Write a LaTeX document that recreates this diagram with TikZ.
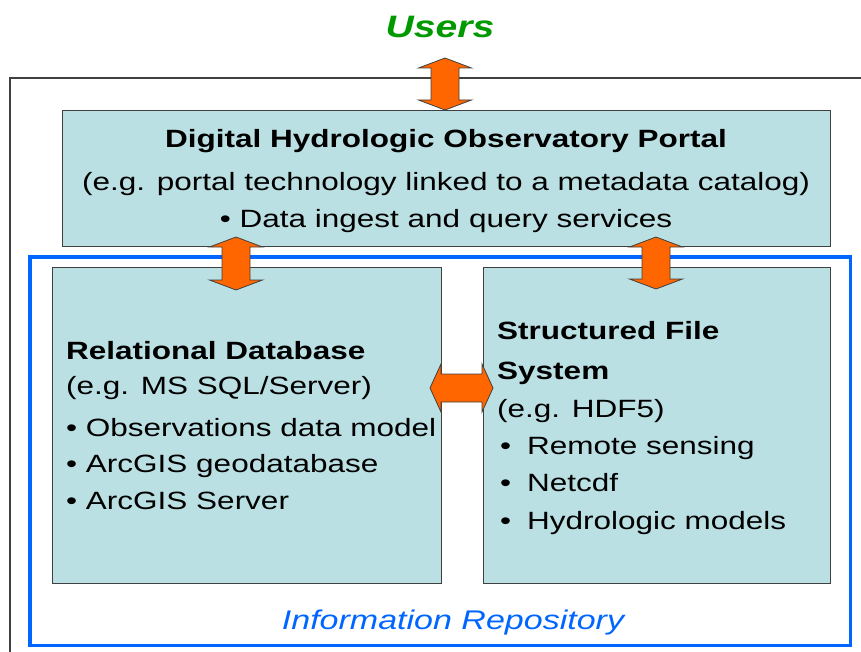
\documentclass[tikz,border=0pt]{standalone}
\usepackage{fontspec}
\setmainfont{Liberation Sans}[FakeStretch=1.26]
\usetikzlibrary{calc}

\definecolor{boxfill}{RGB}{187,224,227}
\definecolor{repoblue}{RGB}{0,102,255}
\definecolor{usergreen}{RGB}{0,153,0}
\definecolor{arroworange}{RGB}{255,102,0}
\definecolor{edgegray}{RGB}{64,64,64}

\tikzset{
  panel/.style={draw=edgegray, line width=1.2pt, fill=boxfill, inner sep=0pt},
  txt/.style={inner sep=0pt, font=\fontsize{25}{29}\selectfont},
  % fat double arrows, vertical and horizontal
  fatv/.style={draw=edgegray, line width=0.8pt, fill=arroworange,
    to path={let \p1=(\tikztostart), \p2=(\tikztotarget) in
      (\x1,\y1) -- (\x1+26.5pt,\y1-10pt) -- (\x1+14pt,\y1-10pt) -- (\x1+14pt,\y2+10pt)
      -- (\x1+26.5pt,\y2+10pt) -- (\x1,\y2) -- (\x1-26.5pt,\y2+10pt) -- (\x1-14pt,\y2+10pt)
      -- (\x1-14pt,\y1-10pt) -- (\x1-26.5pt,\y1-10pt) -- cycle}},
  fath/.style={draw=edgegray, line width=0.8pt, fill=arroworange,
    to path={let \p1=(\tikztostart), \p2=(\tikztotarget) in
      (\x1,\y1) -- (\x1+11pt,\y1+24pt) -- (\x1+11pt,\y1+14pt) -- (\x2-11pt,\y1+14pt)
      -- (\x2-11pt,\y1+24pt) -- (\x2,\y1) -- (\x2-11pt,\y1-24pt) -- (\x2-11pt,\y1-14pt)
      -- (\x1+11pt,\y1-14pt) -- (\x1+11pt,\y1-24pt) -- cycle}}
}

\begin{document}
\begin{tikzpicture}[x=1pt,y=-1pt]
\useasboundingbox (0,0) rectangle (861,652);
\clip (0,0) rectangle (861,652);

% frames
\draw[edgegray, line width=1.3pt] (10,78) rectangle (880,680);
\draw[repoblue, line width=3.5pt] (30,257) rectangle (850.5,645.5);

% boxes
\node[panel, anchor=north west, minimum width=768, minimum height=136] (portal) at (62,110) {};
\node[panel, anchor=north west, minimum width=389, minimum height=316] (rdb) at (52,267) {};
\node[panel, anchor=north west, minimum width=347, minimum height=316] (files) at (483,267) {};

% arrows
\coordinate (u1) at (445,58);
\coordinate (u2) at (u1 |- portal.north);
\coordinate (l1) at (236,237);
\coordinate (l2) at (236,290);
\coordinate (r1) at (656,237);
\coordinate (r2) at (656,289);
\coordinate (h1) at (430,388);
\coordinate (h2) at (493,388);
\draw[fatv] (u1) to (u2);
\draw[fatv] (l1) to (l2);
\draw[fatv] (r1) to (r2);
\draw[fath] (h1) to (h2);

% texts
\node[txt, anchor=base, font=\fontsize{31}{36}\selectfont\bfseries\itshape, text=usergreen] (users) at (440,38) {Users};

\node[txt, anchor=base, font=\fontsize{25}{29}\selectfont\bfseries] (ptitle) at (446,148) {Digital Hydrologic Observatory Portal};
\node[txt, anchor=base] (pnote) at (446,191) {(e.g. portal technology linked to a metadata catalog)};
\node[txt, anchor=base] (pserv) at (446,228) {• Data ingest and query services};

\node[txt, anchor=base west, font=\fontsize{25}{29}\selectfont\bfseries] (rdbtitle) at (66,359) {Relational Database};
\node[txt, anchor=base west] (rdbnote) at (66,394) {(e.g. MS SQL/Server)};
\foreach \t [count=\i] in {Observations data model, ArcGIS geodatabase, ArcGIS Server}
  \node[txt, anchor=base west] (rdbitem\i) at (66,{436+36.5*(\i-1)}) {• \t};

\node[txt, anchor=base west, align=left, font=\fontsize{25}{40}\selectfont\bfseries] (filestitle) at (497,379) {Structured File\\System};
\node[txt, anchor=base west] (filesnote) at (497,417) {(e.g. HDF5)};
\foreach \t [count=\i] in {Remote sensing, Netcdf, Hydrologic models}
  \node[txt, anchor=base west] (filesitem\i) at (500,{454+37.5*(\i-1)}) {\makebox[27pt][l]{•}\t};

\node[txt, anchor=base, font=\fontsize{27}{32}\selectfont\itshape, text=repoblue] (repo) at (453,629) {Information Repository};
\end{tikzpicture}
\end{document}
